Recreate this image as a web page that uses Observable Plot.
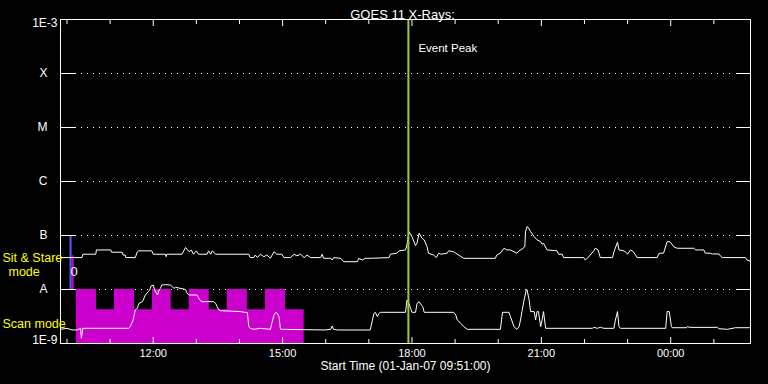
<!DOCTYPE html>
<html>
<head>
<meta charset="utf-8">
<script src="https://cdn.jsdelivr.net/npm/d3@7"></script>
<script src="https://cdn.jsdelivr.net/npm/@observablehq/plot@0.6"></script>
<style>
  html, body { margin: 0; padding: 0; background: #000; }
  #chart svg { display: block; }
</style>
</head>
<body>
<div id="chart"></div>
<script>
// ---------------- DATA ----------------
const titleText = "GOES 11 X-Rays:";
const startLabel = "Start Time (01-Jan-07 09:51:00)";
const timeStart = "09:51";
const timeEnd = "01:51";
const timeTickLabels = ["12:00", "15:00", "18:00", "21:00", "00:00"];
const yTickValues = [1e-3, 1e-4, 1e-5, 1e-6, 1e-7, 1e-8, 1e-9];
const yTickLabels = ["1E-3", "X", "M", "C", "B", "A", "1E-9"];
const eventPeakTime = "17:55";
const eventPeakLabel = "Event Peak";

// GOES long channel (upper curve): [time, flux W/m^2]
const longChannel = [
  ["09:51",3.9e-8],["10:21",3.9e-8],["10:22",4.5e-8],["10:40",4.5e-8],["10:41",5.4e-8],["11:01",5.4e-8],
  ["11:02",4.9e-8],["11:17",4.9e-8],["11:18",4.35e-8],["11:21",4.35e-8],["11:22",3.9e-8],["11:35",3.9e-8],
  ["11:38",5.0e-8],["11:40",5.2e-8],["11:58",5.2e-8],["12:00",4.5e-8],["12:17",4.5e-8],["12:18",4.05e-8],
  ["12:19",4.5e-8],["12:40",4.5e-8],["12:45",6.0e-8],["12:50",5.0e-8],["12:53",5.4e-8],["12:56",4.5e-8],
  ["13:00",5.2e-8],["13:03",4.5e-8],["13:15",4.5e-8],["13:17",5.2e-8],["13:20",4.5e-8],["13:22",5.2e-8],
  ["13:27",4.5e-8],["14:13",4.5e-8],["14:15",3.9e-8],["14:20",3.9e-8],["14:22",4.35e-8],["14:25",3.9e-8],
  ["14:29",4.5e-8],["14:34",4.05e-8],["14:38",4.35e-8],["14:43",3.8e-8],["14:48",5.0e-8],["14:52",4.5e-8],
  ["14:59",4.5e-8],["15:02",3.9e-8],["15:11",3.9e-8],["15:16",4.5e-8],["15:20",4.2e-8],["15:25",4.5e-8],
  ["15:30",3.9e-8],["15:34",4.35e-8],["15:39",3.9e-8],["15:53",3.9e-8],["15:55",4.5e-8],["15:57",3.78e-8],
  ["16:07",3.78e-8],["16:09",3.52e-8],["16:11",3.9e-8],["16:21",3.78e-8],["16:23",3.52e-8],["16:25",3.27e-8],
  ["16:44",3.27e-8],["16:46",3.78e-8],["16:51",3.52e-8],["16:55",3.78e-8],["17:02",3.78e-8],["17:28",3.9e-8],
  ["17:30",4.5e-8],["17:39",4.7e-8],["17:42",5.2e-8],["17:51",5.4e-8],["17:53",6.7e-8],["17:56",1.18e-7],
  ["18:00",9.5e-8],["18:05",6.5e-8],["18:07",7.2e-8],["18:10",1.10e-7],["18:14",8.9e-8],["18:17",8.3e-8],
  ["18:21",6.2e-8],["18:23",4.7e-8],["18:30",4.35e-8],["18:34",3.9e-8],["18:37",4.7e-8],["18:40",4.5e-8],
  ["18:49",4.7e-8],["18:51",5.2e-8],["18:58",5.0e-8],["19:12",3.78e-8],["19:56",3.78e-8],["19:58",4.35e-8],
  ["20:03",4.7e-8],["20:08",5.8e-8],["20:12",5.4e-8],["20:17",5.4e-8],["20:22",5.0e-8],["20:26",4.7e-8],
  ["20:29",5.2e-8],["20:33",5.6e-8],["20:37",6.2e-8],["20:38",1.18e-7],["20:40",1.46e-7],["20:42",1.40e-7],
  ["20:45",1.18e-7],["20:50",9.5e-8],["20:54",8.3e-8],["20:59",7.7e-8],["21:01",6.9e-8],["21:03",7.2e-8],
  ["21:08",5.4e-8],["21:22",5.2e-8],["21:24",4.5e-8],["21:29",4.5e-8],["21:31",3.9e-8],["21:59",3.9e-8],
  ["22:01",3.52e-8],["22:04",3.78e-8],["22:08",4.35e-8],["22:13",5.2e-8],["22:15",5.8e-8],["22:19",5.4e-8],
  ["22:22",3.9e-8],["22:39",3.9e-8],["22:41",5.0e-8],["22:46",7.5e-8],["22:48",5.4e-8],["22:55",5.2e-8],
  ["22:59",4.7e-8],["23:00",4.5e-8],["23:04",5.4e-8],["23:08",5.0e-8],["23:11",4.35e-8],["23:13",3.9e-8],
  ["23:41",3.9e-8],["23:44",4.7e-8],["23:50",4.7e-8],["23:55",7.7e-8],["23:59",7.7e-8],["00:04",6.2e-8],
  ["00:09",5.8e-8],["00:32",5.8e-8],["00:35",5.4e-8],["00:46",5.4e-8],["00:48",4.7e-8],["00:55",4.7e-8],
  ["00:58",4.55e-8],["01:07",4.55e-8],["01:09",4.2e-8],["01:12",3.9e-8],["01:44",3.9e-8],["01:46",3.52e-8],
  ["01:50",3.37e-8]
];

// GOES short channel (lower curve): [time, flux W/m^2]
const shortChannel = [
  ["09:51",1.83e-9],["10:00",1.91e-9],["10:07",1.78e-9],["10:14",1.78e-9],["10:19",1.91e-9],["10:20",1.25e-9],
  ["10:22",1.91e-9],["11:26",1.91e-9],["11:28",2.05e-9],["11:32",2.72e-9],["11:34",3.6e-9],["11:35",4.2e-9],
  ["11:38",4.5e-9],["11:40",5.5e-9],["11:45",5.95e-9],["11:49",7.9e-9],["11:53",9.1e-9],["11:55",9.8e-9],
  ["11:57",1.16e-8],["12:00",1.21e-8],["12:02",9.8e-9],["12:06",7.9e-9],["12:08",9.8e-9],["12:10",1.05e-8],
  ["12:12",1.21e-8],["12:17",1.23e-8],["12:24",1.21e-8],["12:29",1.05e-8],["12:31",1.10e-8],["12:45",1.0e-8],
  ["12:47",8.5e-9],["12:50",7.9e-9],["13:01",7.9e-9],["13:03",6.9e-9],["13:06",6.2e-9],["13:08",5.95e-9],
  ["13:24",5.95e-9],["13:27",5.5e-9],["13:29",4.8e-9],["13:31",4.2e-9],["13:34",4.05e-9],["14:01",3.9e-9],
  ["14:11",3.72e-9],["14:13",2.05e-9],["14:15",1.91e-9],["14:20",1.83e-9],["14:29",1.91e-9],["14:43",1.83e-9],
  ["14:45",2.36e-9],["14:48",3.37e-9],["14:50",3.72e-9],["14:52",3.72e-9],["14:55",3.14e-9],["14:57",1.83e-9],
  ["15:59",1.78e-9],["16:07",1.83e-9],["16:09",2.11e-9],["16:11",1.83e-9],["16:16",1.78e-9],["17:02",1.78e-9],
  ["17:05",2.72e-9],["17:07",3.6e-9],["17:09",3.78e-9],["17:12",3.14e-9],["17:14",3.6e-9],["17:16",3.78e-9],
  ["17:51",3.78e-9],["17:53",6.4e-9],["17:56",5.5e-9],["17:58",4.5e-9],["18:00",3.78e-9],["18:05",3.78e-9],
  ["18:07",5.5e-9],["18:10",5.95e-9],["18:13",5.16e-9],["18:15",4.8e-9],["18:17",3.78e-9],["18:58",3.78e-9],
  ["19:01",3.37e-9],["19:03",2.72e-9],["19:08",2.36e-9],["19:12",2.05e-9],["19:17",1.83e-9],["20:03",1.83e-9],
  ["20:06",3.78e-9],["20:15",3.78e-9],["20:17",3.14e-9],["20:22",2.05e-9],["20:26",1.83e-9],["20:29",2.05e-9],
  ["20:31",2.72e-9],["20:33",3.9e-9],["20:36",6.4e-9],["20:39",9.8e-9],["20:40",1.0e-8],["20:43",6.4e-9],
  ["20:45",3.9e-9],["20:50",3.9e-9],["20:52",2.72e-9],["20:54",3.9e-9],["20:56",3.9e-9],["20:59",2.05e-9],
  ["21:01",2.72e-9],["21:03",3.9e-9],["21:06",1.91e-9],["22:11",1.91e-9],["22:13",1.99e-9],["22:18",1.91e-9],
  ["22:22",1.99e-9],["22:27",1.91e-9],["22:41",1.91e-9],["22:43",2.72e-9],["22:46",3.9e-9],["22:48",2.05e-9],
  ["22:50",1.91e-9],["23:53",1.91e-9],["23:55",3.9e-9],["23:58",3.9e-9],["00:01",2.05e-9],["00:02",1.96e-9],
  ["00:22",1.96e-9],["00:23",2.05e-9],["00:27",1.99e-9],["01:05",1.99e-9],["01:07",1.88e-9],["01:19",1.83e-9],
  ["01:30",1.96e-9],["01:51",1.96e-9]
];

// Scan-mode blocks (edges and levels)
const scanEdges = ["10:13","10:41","11:06","11:34","11:59","12:25","12:50","13:18","13:43","14:11","14:36","15:04","15:30"];
const scanLevels = [1e-8, 4.2e-9, 1e-8, 4.2e-9, 1e-8, 4.2e-9, 1e-8, 4.2e-9, 1e-8, 4.2e-9, 1e-8, 4.2e-9];
const scanBase = 1e-9;

// Sit & Stare marker
const sitStareTime = "10:05";
const sitStareRange = [1e-8, 1e-7];
const sitStareBarTime = "10:08";
const sitStareBarRange = [1e-8, 4.2e-8];
const sitStareGlyph = {time: "10:10", value: 2.1e-8, text: "0"};

// Mode labels (value positions on the flux axis)
const modeLabelTexts = ["Sit & Stare", "mode", "Scan mode"];
const modeLabelValues = [3.83e-8, 2.1e-8, 2.3e-9];

// ---------------- HELPERS ----------------
const base = Date.UTC(2007, 0, 1);
function t(s) {
  const [h, m] = s.split(":").map(Number);
  const day = h < 9 ? 1 : 0;
  return new Date(base + ((day * 24 + h) * 60 + m) * 60000);
}

const upper = longChannel.map(([s, v]) => ({t: t(s), v}));
const lower = shortChannel.map(([s, v]) => ({t: t(s), v}));
const scan = scanEdges.map((s, i) => ({t: t(s), lv: scanLevels[Math.min(i, scanLevels.length - 1)]}));

const xDomain = [t(timeStart), t(timeEnd)];
const majorTicks = timeTickLabels.map(t);
const majorSet = new Set(majorTicks.map(d => +d));
const allHours = d3.utcHour.range(xDomain[0], xDomain[1]);
const minorTicks = allHours.filter(d => !majorSet.has(+d));

const gridVals = yTickValues.slice(1, -1);
const gridLabels = yTickLabels.slice(1, -1);
const fmt = d3.utcFormat("%H:%M");

const WHITE = "#ffffff";
const YELLOW = "#ffff00";
const FONT = "'Liberation Sans', Arial, sans-serif";

function modeLabel(i, dx) {
  return Plot.text([modeLabelValues[i]], {y: d => d, frameAnchor: "left", textAnchor: "start", dx, text: () => modeLabelTexts[i], fill: YELLOW, fontSize: 12.5});
}

const chart = Plot.plot({
  width: 768,
  height: 384,
  marginLeft: 60,
  marginRight: 18,
  marginTop: 19,
  marginBottom: 41,
  style: {background: "#000", color: WHITE, fontFamily: FONT, fontSize: "11px"},
  x: {type: "utc", domain: xDomain, axis: null, label: null},
  y: {type: "log", domain: [yTickValues[yTickValues.length - 1], yTickValues[0]], axis: null, label: null},
  marks: [
    // dotted level grid
    Plot.ruleY(gridVals, {stroke: WHITE, strokeDasharray: "1,5", insetLeft: 15, insetRight: 15}),
    // scan mode blocks (stepped area)
    Plot.areaY(scan, {x: "t", y1: scanBase, y2: "lv", curve: "step-after", fill: "#cc00cc"}),
    // sit & stare markers
    Plot.ruleX([t(sitStareBarTime)], {x: d => d, y1: sitStareBarRange[0], y2: sitStareBarRange[1], stroke: "#cc00cc", strokeWidth: 2}),
    Plot.ruleX([t(sitStareTime)], {x: d => d, y1: sitStareRange[0], y2: sitStareRange[1], stroke: "#5a5aff", strokeWidth: 2}),
    Plot.text([sitStareGlyph], {x: d => t(d.time), y: "value", text: "text", fill: WHITE, fontSize: 13}),
    // curves
    Plot.line(upper, {x: "t", y: "v", stroke: WHITE, strokeWidth: 1}),
    Plot.line(lower, {x: "t", y: "v", stroke: WHITE, strokeWidth: 1}),
    // event peak
    Plot.ruleX([t(eventPeakTime)], {x: d => d, stroke: "#9acd32", strokeWidth: 2}),
    Plot.text([t(eventPeakTime)], {x: d => d, frameAnchor: "top", textAnchor: "start", dx: 10, dy: 24, text: () => eventPeakLabel, fill: WHITE, fontSize: 11.5}),
    // frame
    Plot.frame({stroke: WHITE}),
    // level ticks inside left & right
    Plot.axisY(gridVals, {anchor: "left", tickSize: -15, tickFormat: () => "", stroke: WHITE, label: null}),
    Plot.axisY(gridVals, {anchor: "right", tickSize: -15, tickFormat: () => "", stroke: WHITE, label: null}),
    // time ticks inside
    Plot.axisX(minorTicks, {anchor: "bottom", tickSize: -4, tickFormat: () => "", stroke: WHITE, label: null}),
    Plot.axisX(majorTicks, {anchor: "bottom", tickSize: -6, tickFormat: () => "", stroke: WHITE, label: null}),
    Plot.axisX(minorTicks, {anchor: "top", tickSize: -4, tickFormat: () => "", stroke: WHITE, label: null}),
    Plot.axisX(majorTicks, {anchor: "top", tickSize: -6, tickFormat: () => "", stroke: WHITE, label: null}),
    // time labels
    Plot.axisX(majorTicks, {anchor: "bottom", tickSize: 0, tickPadding: 6, tickFormat: fmt, fontSize: 11, fill: WHITE, label: null}),
    // y labels
    Plot.text(gridVals, {y: d => d, frameAnchor: "left", textAnchor: "end", dx: -13, text: (d, i) => gridLabels[i], fill: WHITE, fontSize: 12}),
    Plot.text([yTickValues[0]], {y: d => d, frameAnchor: "left", textAnchor: "end", dx: -3, dy: 4, text: () => yTickLabels[0], fill: WHITE, fontSize: 12}),
    Plot.text([yTickValues[yTickValues.length - 1]], {y: d => d, frameAnchor: "left", textAnchor: "end", dx: -3, dy: -3, text: () => yTickLabels[yTickLabels.length - 1], fill: WHITE, fontSize: 12}),
    // mode labels
    modeLabel(0, -58),
    modeLabel(1, -52),
    modeLabel(2, -58),
    // title & x label
    Plot.text([titleText], {frameAnchor: "top", dy: -10, dx: -3, text: d => d, fill: WHITE, fontSize: 13}),
    Plot.text([startLabel], {frameAnchor: "bottom", dy: 26, text: d => d, fill: WHITE, fontSize: 12})
  ]
});

document.getElementById("chart").append(chart);
</script>
</body>
</html>
